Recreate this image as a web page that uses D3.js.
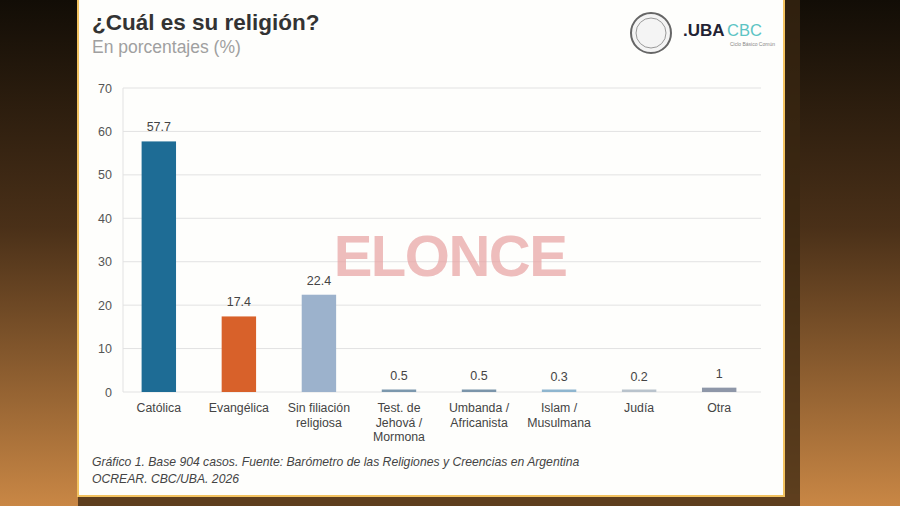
<!DOCTYPE html>
<html>
<head>
<meta charset="utf-8">
<title>¿Cuál es su religión?</title>
<script src="https://d3js.org/d3.v7.min.js"></script>
<style>
  body { margin: 0; background: #000; }
  svg { display: block; font-family: "Liberation Sans", Arial, sans-serif; }
</style>
</head>
<body>
<div id="chart"></div>
<script>
// data
var categories = ["Católica", "Evangélica", "Sin filiación religiosa", "Test. de Jehová / Mormona",
                  "Umbanda / Africanista", "Islam / Musulmana", "Judía", "Otra"];
var categoryLines = [["Católica"], ["Evangélica"], ["Sin filiación", "religiosa"], ["Test. de", "Jehová /", "Mormona"],
                     ["Umbanda /", "Africanista"], ["Islam /", "Musulmana"], ["Judía"], ["Otra"]];
var values = [57.7, 17.4, 22.4, 0.5, 0.5, 0.3, 0.2, 1];
var valueLabels = ["57.7", "17.4", "22.4", "0.5", "0.5", "0.3", "0.2", "1"];
var barColors = ["#1e6c95", "#d8612a", "#9cb2cc", "#7c98ad", "#7b95aa", "#8fb6cf", "#b9c3cc", "#8e97a8"];
var yTicks = [0, 10, 20, 30, 40, 50, 60, 70];

var W = 900, H = 506;
var svg = d3.select("#chart").append("svg").attr("width", W).attr("height", H);
var defs = svg.append("defs");

// photographed background: dark on top, orange towards the bottom
var bg = defs.append("linearGradient").attr("id", "bg").attr("x1", 0).attr("y1", 0).attr("x2", 0).attr("y2", 1);
bg.append("stop").attr("offset", "0%").attr("stop-color", "#120d06");
bg.append("stop").attr("offset", "45%").attr("stop-color", "#4a3018");
bg.append("stop").attr("offset", "100%").attr("stop-color", "#c98745");
svg.append("rect").attr("width", W).attr("height", H).attr("fill", "url(#bg)");

// dark frame right of / below the slide
svg.append("rect").attr("x", 782).attr("y", 0).attr("width", 18).attr("height", 506).attr("fill", "#3a2712").attr("opacity", 0.75);
svg.append("rect").attr("x", 78).attr("y", 494).attr("width", 722).attr("height", 12).attr("fill", "#5e3e1e");

// slide
svg.append("rect").attr("x", 78).attr("y", -2).attr("width", 706).attr("height", 498)
  .attr("fill", "#fefefc").attr("stroke", "#f2c260").attr("stroke-width", 2);

// title
svg.append("text").attr("x", 92).attr("y", 30).attr("font-size", 22.5).attr("font-weight", "bold")
  .attr("fill", "#333").text("¿Cuál es su religión?");
svg.append("text").attr("x", 92).attr("y", 53).attr("font-size", 17.5).attr("fill", "#a0a0a0")
  .text("En porcentajes (%)");

// logo
var logo = svg.append("g");
logo.append("circle").attr("cx", 651).attr("cy", 33).attr("r", 20).attr("fill", "#f4f4f4")
  .attr("stroke", "#666").attr("stroke-width", 2);
logo.append("circle").attr("cx", 651).attr("cy", 33).attr("r", 15).attr("fill", "none")
  .attr("stroke", "#999").attr("stroke-width", 1);
logo.append("text").attr("x", 683).attr("y", 36).attr("font-size", 17).attr("font-weight", "bold")
  .attr("fill", "#223").text(".UBA");
logo.append("text").attr("x", 727).attr("y", 36).attr("font-size", 16.5)
  .attr("fill", "#5cc4c4").text("CBC");
logo.append("text").attr("x", 775).attr("y", 46).attr("font-size", 5).attr("text-anchor", "end")
  .attr("fill", "#888").text("Ciclo Básico Común");

// chart
var x = d3.scaleBand().domain(categories).range([124, 754]).paddingInner(0.57).paddingOuter(0.22);
var y = d3.scaleLinear().domain([0, 70]).range([392, 88]);

var grid = svg.append("g");
grid.selectAll("line").data(yTicks).enter().append("line")
  .attr("x1", 123).attr("x2", 761)
  .attr("y1", function (d) { return y(d); }).attr("y2", function (d) { return y(d); })
  .attr("stroke", "#e2e2e2").attr("stroke-width", 1);
grid.append("line").attr("x1", 123).attr("x2", 123).attr("y1", y(70)).attr("y2", y(0))
  .attr("stroke", "#e2e2e2");

var yAxis = svg.append("g").attr("transform", "translate(112,0)")
  .call(d3.axisLeft(y).tickValues(yTicks).tickSize(0).tickPadding(0));
yAxis.select(".domain").remove();
yAxis.selectAll("text").attr("font-size", 12.5).attr("fill", "#555")
  .attr("font-family", "Liberation Sans, Arial, sans-serif");

svg.selectAll("rect.bar").data(values).enter().append("rect").attr("class", "bar")
  .attr("x", function (d, i) { return x(categories[i]); })
  .attr("width", x.bandwidth())
  .attr("y", function (d) { return Math.min(y(d), y(0) - 2.5); })
  .attr("height", function (d) { return Math.max(y(0) - y(d), 2.5); })
  .attr("fill", function (d, i) { return barColors[i]; });

svg.selectAll("text.val").data(values).enter().append("text").attr("class", "val")
  .attr("x", function (d, i) { return x(categories[i]) + x.bandwidth() / 2; })
  .attr("y", function (d) { return y(d) - 10; })
  .attr("text-anchor", "middle").attr("font-size", 12.5).attr("fill", "#444")
  .text(function (d, i) { return valueLabels[i]; });

var xl = svg.selectAll("text.cat").data(categoryLines).enter().append("text").attr("class", "cat")
  .attr("text-anchor", "middle").attr("font-size", 12.3).attr("fill", "#444");
xl.each(function (lines, i) {
  var t = d3.select(this);
  lines.forEach(function (l, j) {
    t.append("tspan").attr("x", x(categories[i]) + x.bandwidth() / 2)
      .attr("y", 412 + j * 14.5).text(l);
  });
});

// watermark
svg.append("text").attr("x", 450).attr("y", 276).attr("text-anchor", "middle")
  .attr("font-size", 58).attr("font-weight", "bold").attr("fill", "#e8a2a2").attr("opacity", 0.7)
  .attr("letter-spacing", -1.5).text("ELONCE");

// footnote
svg.append("text").attr("x", 92).attr("y", 466).attr("font-size", 12.2).attr("font-style", "italic")
  .attr("fill", "#444").text("Gráfico 1. Base 904 casos. Fuente: Barómetro de las Religiones y Creencias en Argentina");
svg.append("text").attr("x", 92).attr("y", 483).attr("font-size", 12.2).attr("font-style", "italic")
  .attr("fill", "#444").text("OCREAR. CBC/UBA. 2026");
</script>
</body>
</html>
